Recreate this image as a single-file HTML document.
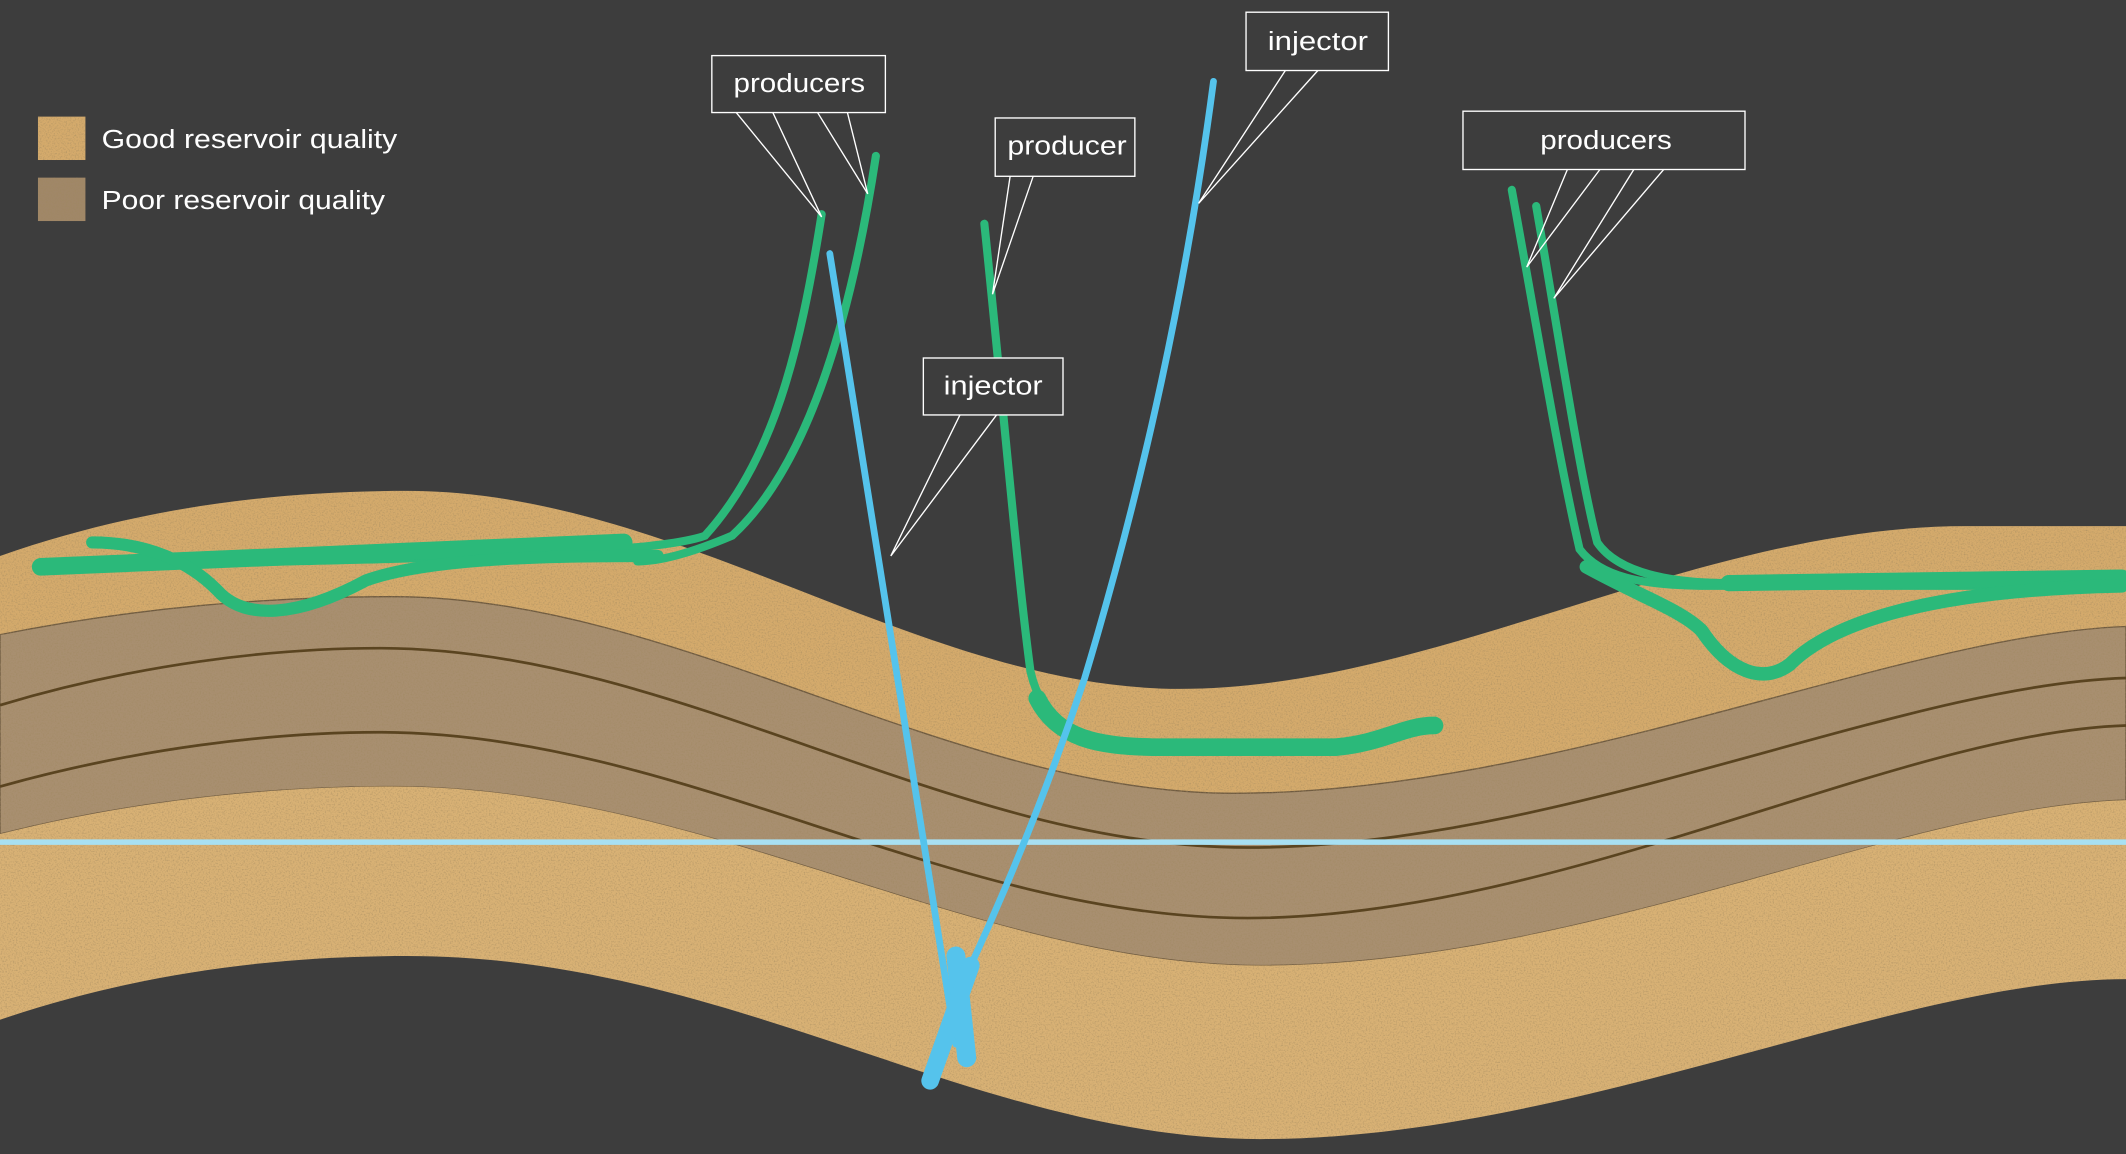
<!DOCTYPE html>
<html><head><meta charset="utf-8"><style>
html,body{margin:0;padding:0;background:#3d3d3d;}
svg{display:block;}
text{font-family:"Liberation Sans",sans-serif;fill:#ffffff;font-size:19px;}
</style></head><body>
<svg width="2126" height="1154" viewBox="0 0 1568 851" preserveAspectRatio="none" xmlns="http://www.w3.org/2000/svg">
<defs>
<filter id="grain" x="0" y="0" width="100%" height="100%">
<feTurbulence type="fractalNoise" baseFrequency="0.9" numOctaves="2" seed="3" result="n"/>
<feColorMatrix in="n" type="matrix" values="0 0 0 0 0.35  0 0 0 0 0.25  0 0 0 0 0.12  0 0 0 1.6 -0.75" result="g"/>
<feComposite in="g" in2="SourceGraphic" operator="in" result="gg"/>
<feMerge><feMergeNode in="SourceGraphic"/><feMergeNode in="gg"/></feMerge>
</filter>
</defs>
<rect width="1568" height="851" fill="#3d3d3d"/>
<g filter="url(#grain)">
<path d="M0,410 C100,375 200,362 300,362 C500,362 680,508 870,508 C1060,508 1250,388 1450,388 C1500,388 1540,388 1568,388 L1568,462 C1400,468 1150,585 910,585 C700,585 500,440 290,440 C200,440 100,448 0,468 Z" fill="#d4aa6c"/>
<path d="M0,468 C100,448 200,440 290,440 C500,440 700,585 910,585 C1150,585 1400,468 1568,462 L1568,590 C1400,595 1170,712 930,712 C720,712 520,580 290,580 C200,580 100,590 0,615 Z" fill="#a88f70" stroke="#6e5a40" stroke-width="1"/>
<path d="M0,615 C100,590 200,580 290,580 C520,580 720,712 930,712 C1170,712 1400,595 1568,590 L1568,722 C1400,722 1160,840 930,840 C720,840 540,705 300,705 C200,705 100,718 0,752 Z" fill="#d8b175"/>
</g>
<path d="M0,520 C100,490 200,478 280,478 C500,478 700,625 920,625 C1150,625 1400,505 1568,500" fill="none" stroke="#5a4420" stroke-width="2"/>
<path d="M0,580 C100,552 200,540 280,540 C500,540 700,677 920,677 C1150,677 1400,540 1568,535" fill="none" stroke="#5a4420" stroke-width="2"/>
<line x1="0" y1="621" x2="1568" y2="621" stroke="#a8e0f2" stroke-width="4"/>

<g fill="none" stroke="#2bb97a" stroke-linecap="round">
<path d="M606,158 C590,260 570,340 520,395 C480,410 300,412 30,418" stroke-width="6"/>
<path d="M646,115 C630,220 600,340 540,395 C500,412 480,414 470,414" stroke-width="6"/>
<path d="M30,418 L460,400" stroke-width="13"/>
<path d="M68,400 C110,400 140,415 160,435 C180,458 220,455 270,428 C320,410 420,410 485,410" stroke-width="9"/>
<path d="M726,165 C740,300 750,420 760,495 C768,530 790,548 840,550 L985,551 C1020,548 1035,535 1058,535" stroke-width="6"/>
<path d="M765,515 C780,545 810,550 850,551 L985,551 C1020,548 1035,535 1058,535" stroke-width="13"/>
<path d="M1115,140 C1135,250 1150,340 1165,405 C1180,425 1210,432 1260,432 L1568,432" stroke-width="6"/>
<path d="M1133,152 C1150,250 1165,350 1178,400 C1195,425 1240,430 1275,430" stroke-width="6"/>
<path d="M1275,430 L1565,426" stroke-width="12"/>
<path d="M1170,418 C1210,440 1240,450 1255,465 C1275,495 1300,505 1320,490 C1350,460 1420,435 1565,432" stroke-width="10"/>
</g>
<g fill="none" stroke="#55c3ec" stroke-linecap="round">
<path d="M612,187 L705,770" stroke-width="5"/>
<path d="M705,705 L713,780" stroke-width="14"/>
<path d="M895,60 C870,250 830,400 800,500 C770,590 740,660 716,712" stroke-width="5"/>
<path d="M716,712 L686,797" stroke-width="13"/>
</g>

<g stroke="#ffffff" stroke-width="1" fill="none">
<polyline points="543,83 606,160 570,83"/>
<polyline points="603,83 640,143 625,83"/>
<polyline points="745,130 732,217 762,130"/>
<polyline points="948,52 884,150 972,52"/>
<polyline points="708,306 657,410 735,306"/>
<polyline points="1156,125 1126,197 1180,125"/>
<polyline points="1205,125 1146,220 1227,125"/>
</g>
<g fill="#3d3d3d" stroke="#ffffff" stroke-width="1">
<rect x="525" y="41" width="128" height="42"/>
<rect x="734" y="87" width="103" height="43"/>
<rect x="919" y="9" width="105" height="43"/>
<rect x="681" y="264" width="103" height="42"/>
<rect x="1079" y="82" width="208" height="43"/>
</g>
<text x="541" y="68" textLength="97" lengthAdjust="spacingAndGlyphs">producers</text>
<text x="743" y="114" textLength="88" lengthAdjust="spacingAndGlyphs">producer</text>
<text x="935" y="37" textLength="74" lengthAdjust="spacingAndGlyphs">injector</text>
<text x="696" y="291" textLength="73" lengthAdjust="spacingAndGlyphs">injector</text>
<text x="1136" y="110" textLength="97" lengthAdjust="spacingAndGlyphs">producers</text>

<g filter="url(#grain)">
<rect x="28" y="86" width="35" height="32" fill="#d4aa6c"/>
<rect x="28" y="131" width="35" height="32" fill="#a08767"/>
</g>
<text x="75" y="109" textLength="218" lengthAdjust="spacingAndGlyphs">Good reservoir quality</text>
<text x="75" y="154" textLength="209" lengthAdjust="spacingAndGlyphs">Poor reservoir quality</text>
</svg>
</body></html>
